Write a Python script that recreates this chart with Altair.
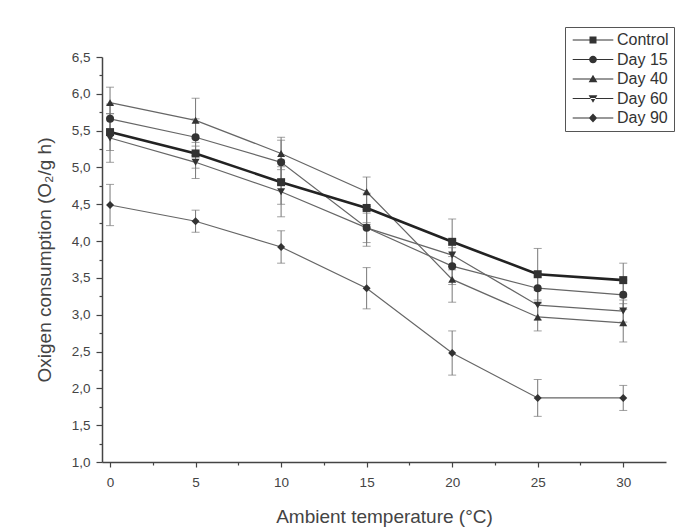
import altair as alt
import pandas as pd

temps = [0, 5, 10, 15, 20, 25, 30]
series_names = ["Control", "Day 15", "Day 40", "Day 60", "Day 90"]
control = [5.48, 5.19, 4.80, 4.45, 3.99, 3.55, 3.47]
day15 = [5.66, 5.41, 5.07, 4.18, 3.66, 3.36, 3.27]
day40 = [5.88, 5.64, 5.19, 4.67, 3.48, 2.97, 2.89]
day60 = [5.40, 5.07, 4.67, 4.18, 3.81, 3.13, 3.05]
day90 = [4.49, 4.27, 3.92, 3.36, 2.48, 1.87, 1.87]
control_sd = [0.25, 0.20, 0.30, 0.20, 0.31, 0.35, 0.23]
day15_sd = [0.20, 0.25, 0.30, 0.20, 0.25, 0.20, 0.20]
day40_sd = [0.21, 0.30, 0.22, 0.20, 0.31, 0.19, 0.26]
day60_sd = [0.33, 0.22, 0.34, 0.25, 0.20, 0.20, 0.15]
day90_sd = [0.28, 0.15, 0.22, 0.28, 0.30, 0.25, 0.17]

x_ticks = [0, 2.5, 5, 7.5, 10, 12.5, 15, 17.5, 20, 22.5, 25, 27.5, 30]
y_ticks = [1.0, 1.25, 1.5, 1.75, 2.0, 2.25, 2.5, 2.75, 3.0, 3.25, 3.5, 3.75, 4.0,
           4.25, 4.5, 4.75, 5.0, 5.25, 5.5, 5.75, 6.0, 6.25, 6.5]

marker_shapes = ["square", "circle", "triangle-up", "triangle-down", "diamond"]
LINE = "M-5.8,-0.16H5.8V0.16H-5.8Z"
legend_shapes = [
    LINE + "M-1,-1H1V1H-1Z",
    LINE + "M1.1,0A1.1,1.1 0 1,1 -1.1,0A1.1,1.1 0 1,1 1.1,0Z",
    LINE + "M0,-1.2L1.25,0.9H-1.25Z",
    LINE + "M0,1.2L1.25,-0.9H-1.25Z",
    LINE + "M0,-1.3L1.2,0L0,1.3L-1.2,0Z",
]

values = [control, day15, day40, day60, day90]
sds = [control_sd, day15_sd, day40_sd, day60_sd, day90_sd]
rows = []
for name, vals, sd in zip(series_names, values, sds):
    for t, v, s in zip(temps, vals, sd):
        rows.append({"series": name, "temp": t, "value": v, "lo": v - s, "hi": v + s})
df = pd.DataFrame(rows)

FONT = "Liberation Sans"
xscale = alt.Scale(domain=[-0.47, 32.5], nice=False, zero=False)
yscale = alt.Scale(domain=[1.0, 6.5], nice=False, zero=False)

x_axis = alt.Axis(
    values=x_ticks, title="Ambient temperature (°C)",
    labelExpr="datum.value % 5 == 0 ? format(datum.value, 'd') : ''",
    tickSize={"condition": {"test": "datum.value % 5 == 0", "value": 5}, "value": 3},
    labelPadding=8, titlePadding=19, grid=False, labelOverlap=False,
)
y_axis = alt.Axis(
    values=y_ticks, title="Oxigen consumption (O₂/g h)",
    labelExpr="abs(datum.value*2 - round(datum.value*2)) < 0.001 ? replace(format(datum.value, '.1f'), '.', ',') : ''",
    tickSize={"condition": {"test": "abs(datum.value*2 - round(datum.value*2)) < 0.001", "value": 6}, "value": 3},
    labelPadding=6, titlePadding=17, grid=False, labelOverlap=False,
)

base = alt.Chart(df)
X = alt.X("temp:Q", scale=xscale, axis=x_axis)
Y = alt.Y("value:Q", scale=yscale, axis=y_axis)
YLO = alt.Y("lo:Q", scale=yscale, axis=y_axis)
YHI = alt.Y("hi:Q", scale=yscale, axis=y_axis)

err = base.mark_rule(color="#777777", strokeWidth=1).encode(x=X, y=YLO, y2="hi:Q")
cap_lo = base.mark_tick(orient="horizontal", size=8, thickness=1, color="#777777").encode(x=X, y=YLO)
cap_hi = base.mark_tick(orient="horizontal", size=8, thickness=1, color="#777777").encode(x=X, y=YHI)

others = base.transform_filter("datum.series != 'Control'").mark_line(
    color="#666666", strokeWidth=1.2).encode(x=X, y=Y, detail="series:N")
ctrl = base.transform_filter("datum.series == 'Control'").mark_line(
    color="#222222", strokeWidth=2.6).encode(x=X, y=Y)

point_layers = []
for name, shp in zip(series_names, marker_shapes):
    point_layers.append(
        base.transform_filter(alt.datum.series == name).mark_point(
            filled=True, color="#333333", size=64, opacity=1, shape=shp
        ).encode(x=X, y=Y)
    )

legend_layer = base.transform_filter("false").mark_point(
    filled=True, color="#333333", size=49, opacity=1).encode(
    x=X, y=Y,
    shape=alt.Shape("series:N", scale=alt.Scale(domain=series_names, range=legend_shapes),
                    legend=alt.Legend(
                        title=None, orient="none", legendX=463, legendY=-30,
                        labelFont=FONT, labelFontSize=16, labelColor="#333333",
                        symbolSize=49, symbolOffset=15, labelOffset=16,
                        symbolFillColor="#333333",
                        rowPadding=3.5, padding=5,
                        strokeColor="#555555", fillColor="white")),
)

chart = alt.layer(err, cap_lo, cap_hi, others, ctrl, *point_layers, legend_layer).properties(
    width=564, height=405,
    autosize=alt.AutoSizeParams(type="none"),
    padding={"left": 102, "top": 57, "right": 14, "bottom": 69},
    background="white",
).configure_view(stroke=None).configure_axis(
    labelFont=FONT, titleFont=FONT, labelFontSize=13.5, titleFontSize=19,
    labelColor="#444444", titleColor="#444444", titleFontWeight="normal",
    domainColor="#444444", domainWidth=1.5, tickColor="#444444", tickWidth=1.2,
)

chart.save("out.html", embed_options={"renderer": "svg", "actions": False})
